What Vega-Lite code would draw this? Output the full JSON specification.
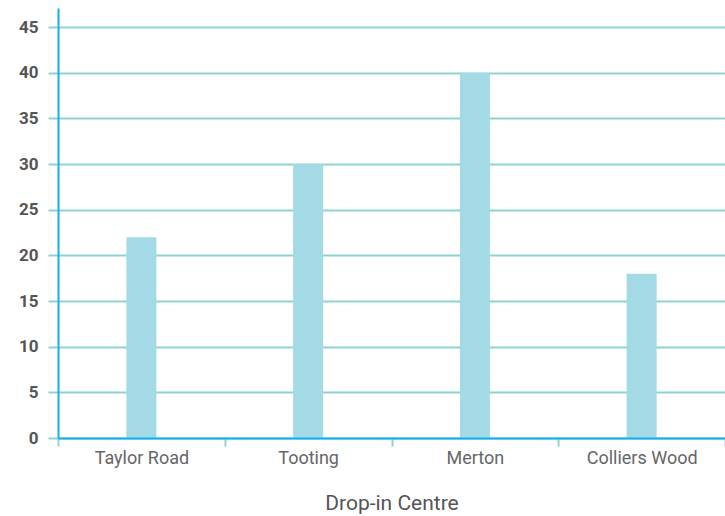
{
  "$schema": "https://vega.github.io/schema/vega-lite/v6.json",
  "autosize": {"type": "none"},
  "padding": {"left": 58, "top": 8, "right": 0, "bottom": 78},
  "width": 667,
  "height": 430,
  "background": "white",
  "config": {"view": {"stroke": null}, "font": "Roboto"},
  "data": {"values": [
    {"centre": "Taylor Road", "value": 22},
    {"centre": "Tooting", "value": 30},
    {"centre": "Merton", "value": 40},
    {"centre": "Colliers Wood", "value": 18}
  ]},
  "mark": {"type": "bar", "color": "#a3dae5", "size": 30},
  "encoding": {
    "x": {
      "field": "centre", "type": "nominal", "sort": null,
      "title": "Drop-in Centre",
      "scale": {"paddingInner": 0, "paddingOuter": 0},
      "axis": {
        "labelAngle": 0, "labelFontSize": 18, "labelColor": "#666666", "labelPadding": 3,
        "tickBand": "extent", "tickColor": "#8fd3d0", "tickWidth": 2, "tickSize": 8,
        "domainColor": "#12b0ea", "domainWidth": 2,
        "titleFontSize": 21, "titleFontWeight": "normal", "titleColor": "#555555", "titlePadding": 25,
        "zindex": 1
      }
    },
    "y": {
      "field": "value", "type": "quantitative",
      "scale": {"domain": [0, 47.1], "nice": false},
      "title": null,
      "axis": {
        "values": [0, 5, 10, 15, 20, 25, 30, 35, 40, 45],
        "labelFontSize": 17, "labelFontWeight": "bold", "labelColor": "#555555", "labelPadding": 10,
        "tickColor": "#8fd3d0", "tickWidth": 2, "tickSize": 10,
        "gridColor": "#8fd3d0", "gridWidth": 2,
        "domainColor": "#12b0ea", "domainWidth": 2,
        "zindex": 0
      }
    }
  }
}
